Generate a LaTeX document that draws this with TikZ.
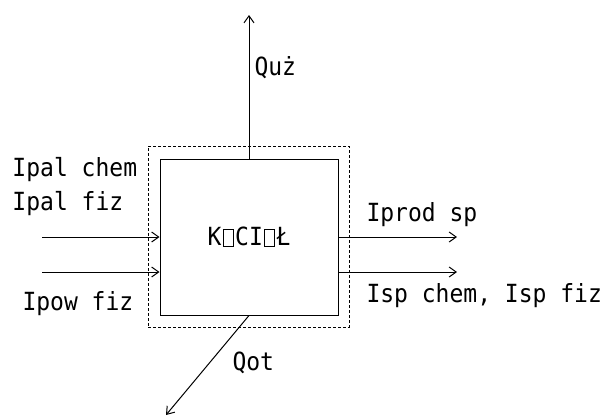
\documentclass[tikz,border=0pt]{standalone}
\usepackage{fontspec}
\newfontfamily\cadfont[FakeStretch=0.92]{DejaVu Sans Mono}
\newcommand{\kratka}{\hspace{1.6pt}{\fboxsep=0pt\fboxrule=0.9pt\fbox{\rule{0pt}{16.4pt}\rule{8.8pt}{0pt}}}\hspace{1.6pt}}
\usetikzlibrary{arrows.meta}
\begin{document}
\begin{tikzpicture}[x=1pt,y=-1pt,line width=1pt,
  strzalka/.style={-{Straight Barb[length=7pt,width=10pt]}},
  opis/.style={anchor=base west,inner sep=0pt,font=\cadfont\fontsize{25}{25}\selectfont}]
  \useasboundingbox (0,0) rectangle (610,416);
  % granica bilansowa i kociol
  \node[draw,dashed,dash pattern=on 3pt off 2pt,minimum width=201pt,minimum height=181pt,inner sep=0pt]
    (granica) at (248.5,236.5) {};
  \node[draw,fill=white,minimum width=178pt,minimum height=156pt,inner sep=0pt,
    font=\cadfont\fontsize{25}{25}\selectfont] (kociol) at (249,237) {K\kratka CI\kratka Ł};
  % strumienie
  \coordinate (we1) at (42,237);
  \coordinate (we2) at (42,272);
  \coordinate (wy1) at (457,237);
  \coordinate (wy2) at (457,272);
  \coordinate (quz) at (249,15);
  \coordinate (qot) at (166,415);
  \draw[strzalka] (we1) -- (we1 -| kociol.west);
  \draw[strzalka] (we2) -- (we2 -| kociol.west);
  \draw[strzalka] (wy1 -| kociol.east) -- (wy1);
  \draw[strzalka] (wy2 -| kociol.east) -- (wy2);
  \draw[strzalka] (kociol.north) -- (quz);
  \draw[strzalka] (kociol.south) -- (qot);
  % opisy
  \node[opis] (ipalchem) at (12,176) {Ipal chem};
  \node[opis] (ipalfiz) at (12,210) {Ipal fiz};
  \node[opis] (ipowfiz) at (22,310) {Ipow fiz};
  \node[opis] (iprod) at (366,221) {Iprod sp};
  \node[opis] (isp) at (366,302) {Isp chem, Isp fiz};
  \node[opis] (quzlab) at (254,75) {Quż};
  \node[opis] (qotlab) at (232,370) {Qot};
\end{tikzpicture}
\end{document}
